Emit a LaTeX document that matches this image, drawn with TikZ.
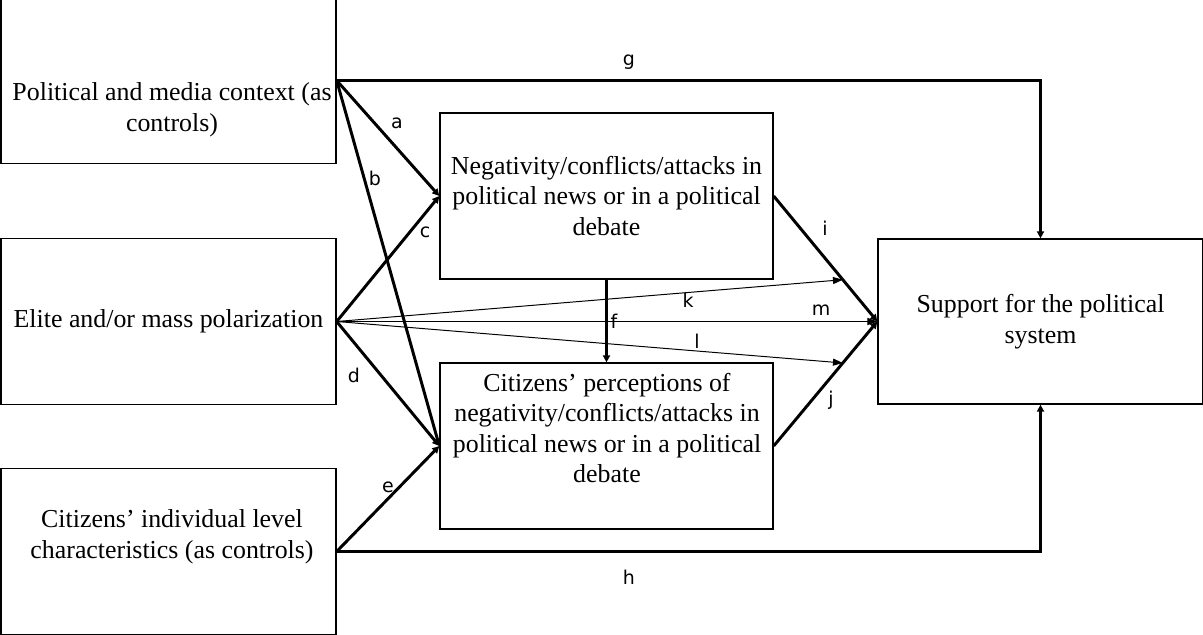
\documentclass[tikz,border=0pt]{standalone}
\usepackage{fontspec}
\setmainfont{Liberation Serif}
\newfontfamily\lblfont{DejaVu Sans}
\usetikzlibrary{arrows.meta}

\begin{document}
\begin{tikzpicture}[x=0.025cm,y=-0.025cm,
    box/.style={draw, line width=0.9pt, minimum width=8.375cm,
      minimum height=4.15cm, inner sep=0pt, align=center,
      font=\fontsize{18.4}{21.8}\selectfont},
    boxtext/.style={align=center, inner sep=0pt,
      font=\fontsize{18.4}{21.8}\selectfont},
    lbl/.style={font=\lblfont\fontsize{13.5}{15}\selectfont, inner sep=0pt},
    thickarrow/.style={line width=2.1pt, -{Triangle[length=5pt,width=5pt]}},
    thinarrow/.style={line width=0.7pt, -{Triangle[length=7pt,width=5pt]}}]

    \useasboundingbox (0,0) rectangle (1203,634);

    % boxes on the left
    \node[box] (ctx) at (168.5,80.5) {};
    \node[boxtext] (ctxtext) at (172,110) {Political and media context (as\\controls)};
    \node[box] (pol) at (168.5,321.5) {Elite and/or mass polarization};
    \node[box] (ind) at (168.5,551.5) {};
    \node[boxtext] (indtext) at (172,537) {Citizens’ individual level\\characteristics (as controls)};

    % boxes in the middle
    \node[box, minimum width=8.325cm] (neg) at (606.5,196) {Negativity/conflicts/attacks in\\political news or in a political\\debate};
    \node[box, minimum width=8.325cm] (per) at (606.5,446) {};
    \node[boxtext] (pertext) at (607,428) {Citizens’ perceptions of\\negativity/conflicts/attacks in\\political news or in a political\\debate};

    % box on the right
    \node[box, minimum width=8.125cm, minimum height=4.125cm] (sup) at (1040.5,321.5) {Support for the political\\system};

    \draw[thickarrow] (ctx.east) -- (neg.west);
    \draw[thickarrow] (ctx.east) -- (per.west);
    \draw[thickarrow] (pol.east) -- (neg.west);
    \draw[thickarrow] (pol.east) -- (per.west);
    \draw[thickarrow] (ind.east) -- (per.west);
    \draw[thickarrow] (neg.south) -- (per.north);
    \draw[thickarrow] (ctx.east) -| (sup.north);
    \draw[thickarrow] (ind.east) -| (sup.south);
    \draw[thickarrow] (neg.east) -- coordinate[pos=0.667] (ik) (sup.west);
    \draw[thickarrow] (per.east) -- coordinate[pos=0.667] (jl) (sup.west);
    \draw[thinarrow] (pol.east) -- (ik);
    \draw[thinarrow] (pol.east) -- (jl);
    \draw[thinarrow] (pol.east) -- (sup.west);

    % path labels
    \node[lbl] (la) at (397,123) {a};
    \node[lbl] (lb) at (375,178) {b};
    \node[lbl] (lc) at (425,232) {c};
    \node[lbl] (ld) at (354,375) {d};
    \node[lbl] (le) at (388,487) {e};
    \node[lbl] (lf) at (614,321) {f};
    \node[lbl] (lg) at (629,62) {g};
    \node[lbl] (lh) at (629,577) {h};
    \node[lbl] (li) at (825,228) {i};
    \node[lbl] (lj) at (831,400) {j};
    \node[lbl] (lk) at (688,300) {k};
    \node[lbl] (ll) at (697,341) {l};
    \node[lbl] (lm) at (821,310) {m};
\end{tikzpicture}
\end{document}
